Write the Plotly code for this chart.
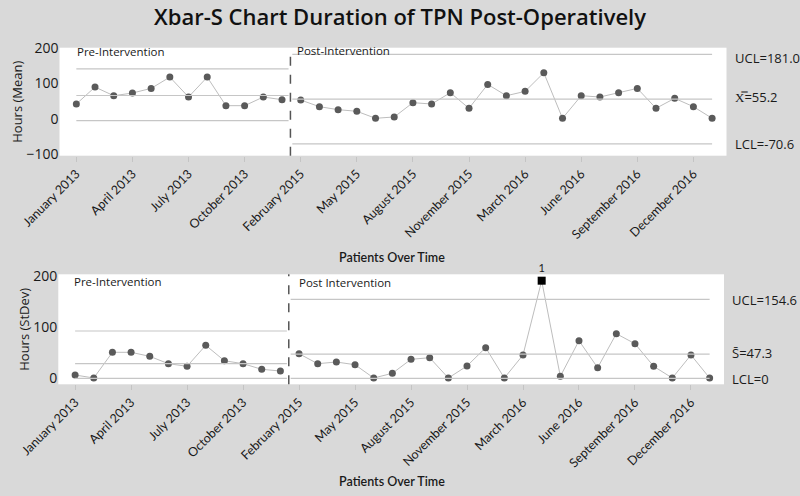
import plotly.graph_objects as go

# ---------------- data ----------------
categories = [
    "January 2013", "February 2013", "March 2013", "April 2013", "May 2013", "June 2013",
    "July 2013", "August 2013", "September 2013", "October 2013", "November 2013", "December 2013",
    "February 2015", "March 2015", "April 2015", "May 2015", "June 2015", "July 2015",
    "August 2015", "September 2015", "October 2015", "November 2015", "December 2015",
    "February 2016", "March 2016", "April 2016", "May 2016", "June 2016", "July 2016",
    "August 2016", "September 2016", "October 2016", "November 2016", "December 2016",
    "January 2017",
]
tick_labels = [
    "January 2013", "April 2013", "July 2013", "October 2013", "February 2015",
    "May 2015", "August 2015", "November 2015", "March 2016", "June 2016",
    "September 2016", "December 2016",
]
pre_count = 12  # first 12 subgroups are pre-intervention

mean_values = [
    41.5, 89.2, 64.8, 72.4, 85.5, 117.2, 61.2, 117.2, 36.8, 36.8, 61.2, 53.6,
    52.7, 34.0, 25.6, 21.0, 1.3, 5.0, 45.3, 41.5, 73.3, 29.4, 96.7, 64.8,
    77.1, 129.4, 1.3, 64.8, 61.2, 73.3, 85.5, 29.4, 57.5, 34.0, 1.3,
]
stdev_values = [
    6.5, 0.6, 50.9, 50.9, 43.0, 28.6, 23.5, 64.6, 34.4, 28.6, 17.6, 14.3,
    48.1, 28.6, 31.9, 26.6, 0.6, 9.8, 37.2, 40.3, 0.6, 24.1, 59.9, 0.6,
    45.6, 191.0, 3.9, 73.6, 20.7, 87.3, 67.7, 23.5, 0.6, 45.6, 0.6,
]
out_of_control_index = 25  # flagged "1" on the S chart

mean_pre_limits = [140.5, 65.5, -5.0]     # UCL, centre, LCL
mean_post_limits = [181.0, 55.2, -70.6]
stdev_pre_limits = [92.6, 28.6, 0.0]
stdev_post_limits = [154.6, 47.3, 0.0]

# ---------------- styling ----------------
BG = "#d9d9d9"
MARK = "#5a5a5a"
LINE = "#bdbdbd"
LIM = "#c6c6c6"
TXT = "#1a1a1a"

x_idx = list(range(len(categories)))
tickvals = [categories.index(t) for t in tick_labels]
split = pre_count - 0.55
xr = [-0.9, len(categories) - 1 + 0.77]

fig = go.Figure()


def add_series(values, xa, ya):
    pre_x, post_x = x_idx[:pre_count], x_idx[pre_count:]
    for xs in (pre_x, post_x):
        fig.add_trace(go.Scatter(
            x=xs, y=[values[i] for i in xs], mode="lines+markers",
            line=dict(color=LINE, width=1),
            marker=dict(color=MARK, size=7),
            xaxis=xa, yaxis=ya, showlegend=False, hoverinfo="skip"))


add_series(mean_values, "x", "y")
add_series(stdev_values, "x2", "y2")
# flagged point drawn as black square on top
fig.add_trace(go.Scatter(
    x=[x_idx[out_of_control_index]], y=[stdev_values[out_of_control_index]],
    mode="markers+text", text=["1"], textposition="top center", cliponaxis=False,
    textfont=dict(family="Lato", size=11, color=TXT),
    marker=dict(color="#000000", size=8, symbol="square"),
    xaxis="x2", yaxis="y2", showlegend=False, hoverinfo="skip"))

shapes = []


def limit_lines(limits_pre, limits_post, xref, yref):
    for v in limits_pre:
        shapes.append(dict(type="line", xref=xref, yref=yref, x0=0, x1=split - 0.1,
                           y0=v, y1=v, line=dict(color=LIM, width=1.2)))
    for v in limits_post:
        shapes.append(dict(type="line", xref=xref, yref=yref, x0=split + 0.1,
                           x1=len(categories) - 1, y0=v, y1=v,
                           line=dict(color=LIM, width=1.2)))
    shapes.append(dict(type="line", xref=xref, yref=yref + " domain", x0=split, x1=split,
                       y0=0, y1=1, line=dict(color="#555555", width=1.5, dash="dash")))


limit_lines(mean_pre_limits, mean_post_limits, "x", "y")
limit_lines(stdev_pre_limits, stdev_post_limits, "x2", "y2")

annotations = []


def txt(x, y, s, size=12, xanchor="left", family="Open Sans", weight=None):
    f = dict(family=family, size=size, color=TXT)
    if weight:
        f["weight"] = weight
    annotations.append(dict(x=x / 800, y=1 - y / 496, xref="paper", yref="paper", text=s,
                            showarrow=False, xanchor=xanchor, yanchor="middle", font=f))


# stage labels
txt(75, 51.5, "Pre-Intervention", 11.5)
txt(295, 50.5, "Post-Intervention", 11.5)
txt(72, 281.5, "Pre-Intervention", 11.5)
txt(296.5, 282.5, "Post Intervention", 11.5)
# control limit labels (top)
txt(733, 57.5, "UCL=%.1f" % mean_post_limits[0], 13)
txt(733, 97, "X\u033f=%.1f" % mean_post_limits[1], 13)
txt(733, 144, "LCL=%.1f" % mean_post_limits[2], 13)
# control limit labels (bottom)
txt(730, 299.5, "UCL=%.1f" % stdev_post_limits[0], 13)
txt(730, 353, "S\u0304=%.1f" % stdev_post_limits[1], 13)
txt(730, 378.5, "LCL=%g" % stdev_post_limits[2], 13)
# axis titles
txt(392, 257, "Patients Over Time", 12.5, "center", "Lato", 600)
txt(392, 481.5, "Patients Over Time", 12.5, "center", "Lato", 600)

xaxis_common = dict(
    range=xr, tickmode="array", tickvals=tickvals, ticktext=tick_labels,
    tickangle=-45, tickfont=dict(family="Lato", size=12.5, color=TXT),
    showgrid=False, zeroline=False, showline=False, automargin=False,
    ticks="outside", ticklen=5, tickcolor="#c4c4c4",
)
yaxis_common = dict(
    showgrid=False, zeroline=False, showline=False, ticks="", automargin=False,
    tickfont=dict(family="Open Sans", size=14, color=TXT),
    title_font=dict(family="Open Sans", size=13, color=TXT), title_standoff=0,
)

fig.update_layout(
    width=800, height=496,
    margin=dict(l=0, r=0, t=0, b=0, autoexpand=False),
    paper_bgcolor=BG, plot_bgcolor="#ffffff",
    title=dict(text="Xbar-S Chart Duration of TPN Post-Operatively",
               x=0.5, xanchor="center", y=1 - 17 / 496, yanchor="middle",
               font=dict(family="Open Sans", size=22, color="#111111", weight=600)),
    xaxis=dict(domain=[59.5 / 800, 726.5 / 800], anchor="y", **xaxis_common),
    yaxis=dict(domain=[1 - 155.7 / 496, 1 - 47.7 / 496], anchor="x",
               range=[-104, 200], tickvals=[-100, 0, 100, 200],
               title_text="Hours (Mean)", **yaxis_common),
    xaxis2=dict(domain=[58.3 / 800, 724 / 800], anchor="y2", **xaxis_common),
    yaxis2=dict(domain=[1 - 384.3 / 496, 1 - 274.3 / 496], anchor="x2",
                range=[-11.7, 203.5], tickvals=[0, 100, 200],
                title_text="Hours (StDev)", **yaxis_common),
    shapes=shapes, annotations=annotations,
)

fig.write_html(
    "out.html",
    config={"displayModeBar": False, "staticPlot": True},
    post_script="document.body.style.margin='0';document.body.style.background='%s';"
                "document.body.style.overflow='hidden';" % BG,
)
